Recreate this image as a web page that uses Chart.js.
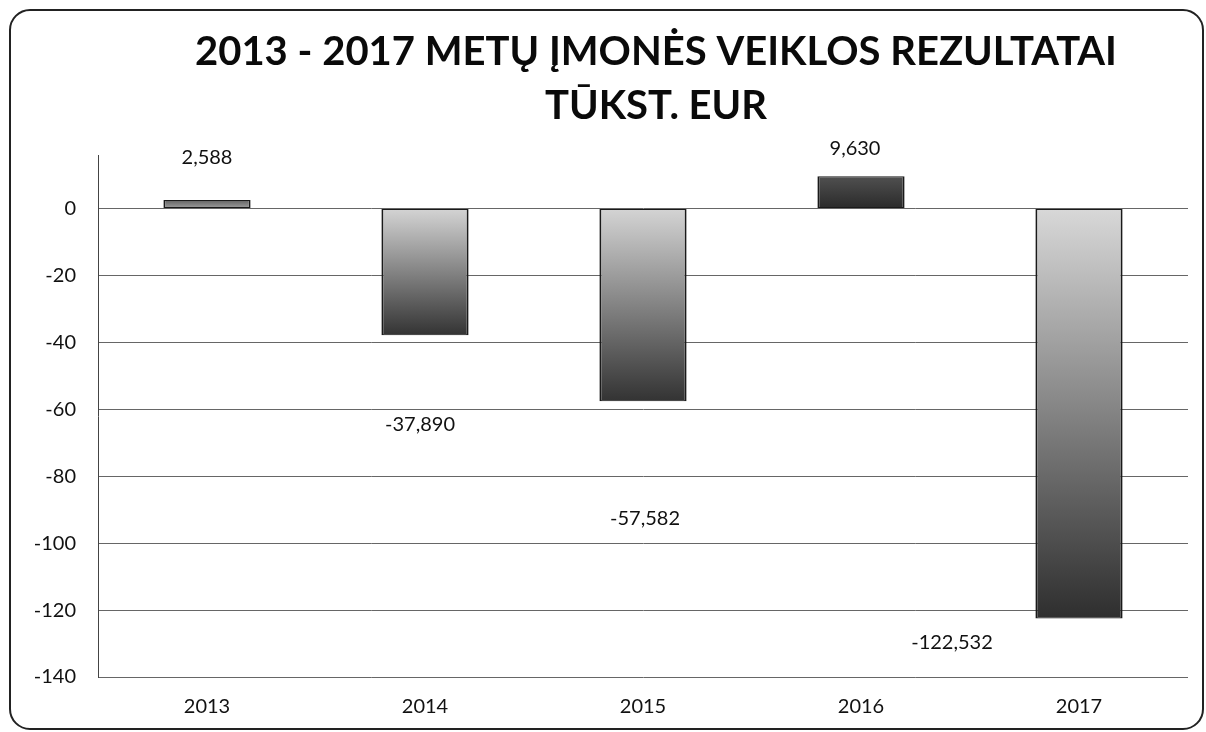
<!DOCTYPE html>
<html>
<head>
<meta charset="utf-8">
<script src="https://cdn.jsdelivr.net/npm/chart.js@4/dist/chart.umd.min.js"></script>
<style>
  body { margin: 0; background: #fff; }
  #wrap { width: 1206px; height: 732px; }
</style>
</head>
<body>
<div id="wrap"><canvas id="chart" width="1206" height="732"></canvas></div>
<script>
// Duomenys (tūkst. EUR)
const metai = ['2013', '2014', '2015', '2016', '2017'];
const rezultatai = [2.588, -37.89, -57.582, 9.63, -122.532];
const yTicks = [0, -20, -40, -60, -80, -100, -120, -140];

const titleLines = ['2013 - 2017 METŲ ĮMONĖS VEIKLOS REZULTATAI', 'TŪKST. EUR'];

// stulpelių atspalviai: [prie nulio, galas]
const shades = [
  ['#a0a0a0', '#606060'],
  ['#d4d4d4', '#333333'],
  ['#d4d4d4', '#333333'],
  ['#2a2a2a', '#505050'],
  ['#d8d8d8', '#2e2e2e']
];
// reikšmių užrašų poslinkiai nuo stulpelio galo (px)
const labelOffsets = [[0, -42], [-5, 89], [2, 117], [-6, -28], [-127, 24]];

function fmt(v) {
  return v.toFixed(3).replace('.', ',');
}

const bgAndFrame = {
  id: 'bgAndFrame',
  beforeDraw(chart) {
    const c = chart.ctx;
    c.save();
    c.fillStyle = '#fff';
    c.fillRect(0, 0, chart.width, chart.height);
    c.beginPath();
    c.roundRect(10, 10, 1193, 719, 20);
    c.lineWidth = 2;
    c.strokeStyle = '#222';
    c.stroke();
    // antraštė
    c.fillStyle = '#0a0a0a';
    c.font = 'bold 40px Lato';
    c.textAlign = 'center';
    c.textBaseline = 'middle';
    c.fillText(titleLines[0], 656, 52);
    c.fillText(titleLines[1], 656, 106);
    c.restore();
  },
  afterDatasetsDraw(chart) {
    const c = chart.ctx;
    const meta = chart.getDatasetMeta(0);
    c.save();
    c.fillStyle = '#111';
    c.font = '20px Lato';
    c.textAlign = 'center';
    c.textBaseline = 'middle';
    meta.data.forEach((bar, i) => {
      const off = labelOffsets[i];
      c.fillText(fmt(rezultatai[i]), bar.x + off[0], bar.y + off[1]);
    });
    c.restore();
  }
};

new Chart(document.getElementById('chart'), {
  type: 'bar',
  data: {
    labels: metai,
    datasets: [{
      data: rezultatai,
      backgroundColor(ctx) {
        const chart = ctx.chart;
        if (!chart.chartArea) return '#888';
        const y = chart.scales.y;
        const y0 = y.getPixelForValue(0);
        const y1 = y.getPixelForValue(ctx.raw);
        const g = chart.ctx.createLinearGradient(0, y0, 0, y1);
        const s = shades[ctx.dataIndex];
        g.addColorStop(0, s[0]);
        g.addColorStop(1, s[1]);
        return g;
      },
      borderColor: '#1a1a1a',
      borderWidth: { left: 2, right: 2, top: 1, bottom: 1 },
      borderSkipped: false,
      categoryPercentage: 1,
      barPercentage: 0.4
    }]
  },
  options: {
    responsive: false,
    animation: false,
    layout: { padding: { top: 155, right: 18, left: 0, bottom: 0 } },
    plugins: {
      legend: { display: false },
      title: { display: false },
      tooltip: { enabled: false }
    },
    scales: {
      x: {
        grid: { display: false, drawTicks: false },
        border: { display: false },
        ticks: { color: '#111', font: { family: 'Lato', size: 20 }, padding: 18 },
        afterFit(scale) { scale.height = 55; }
      },
      y: {
        min: -140,
        max: 16,
        ticks: {
          stepSize: 20,
          color: '#111',
          font: { family: 'Lato', size: 20 },
          padding: 22
        },
        afterBuildTicks(scale) {
          scale.ticks = yTicks.map(v => ({ value: v }));
        },
        grid: { color: '#666', lineWidth: 1, drawTicks: false },
        border: { display: true, color: '#444', width: 1 },
        afterFit(scale) { scale.width = 98; }
      }
    }
  },
  plugins: [bgAndFrame]
});
</script>
</body>
</html>
